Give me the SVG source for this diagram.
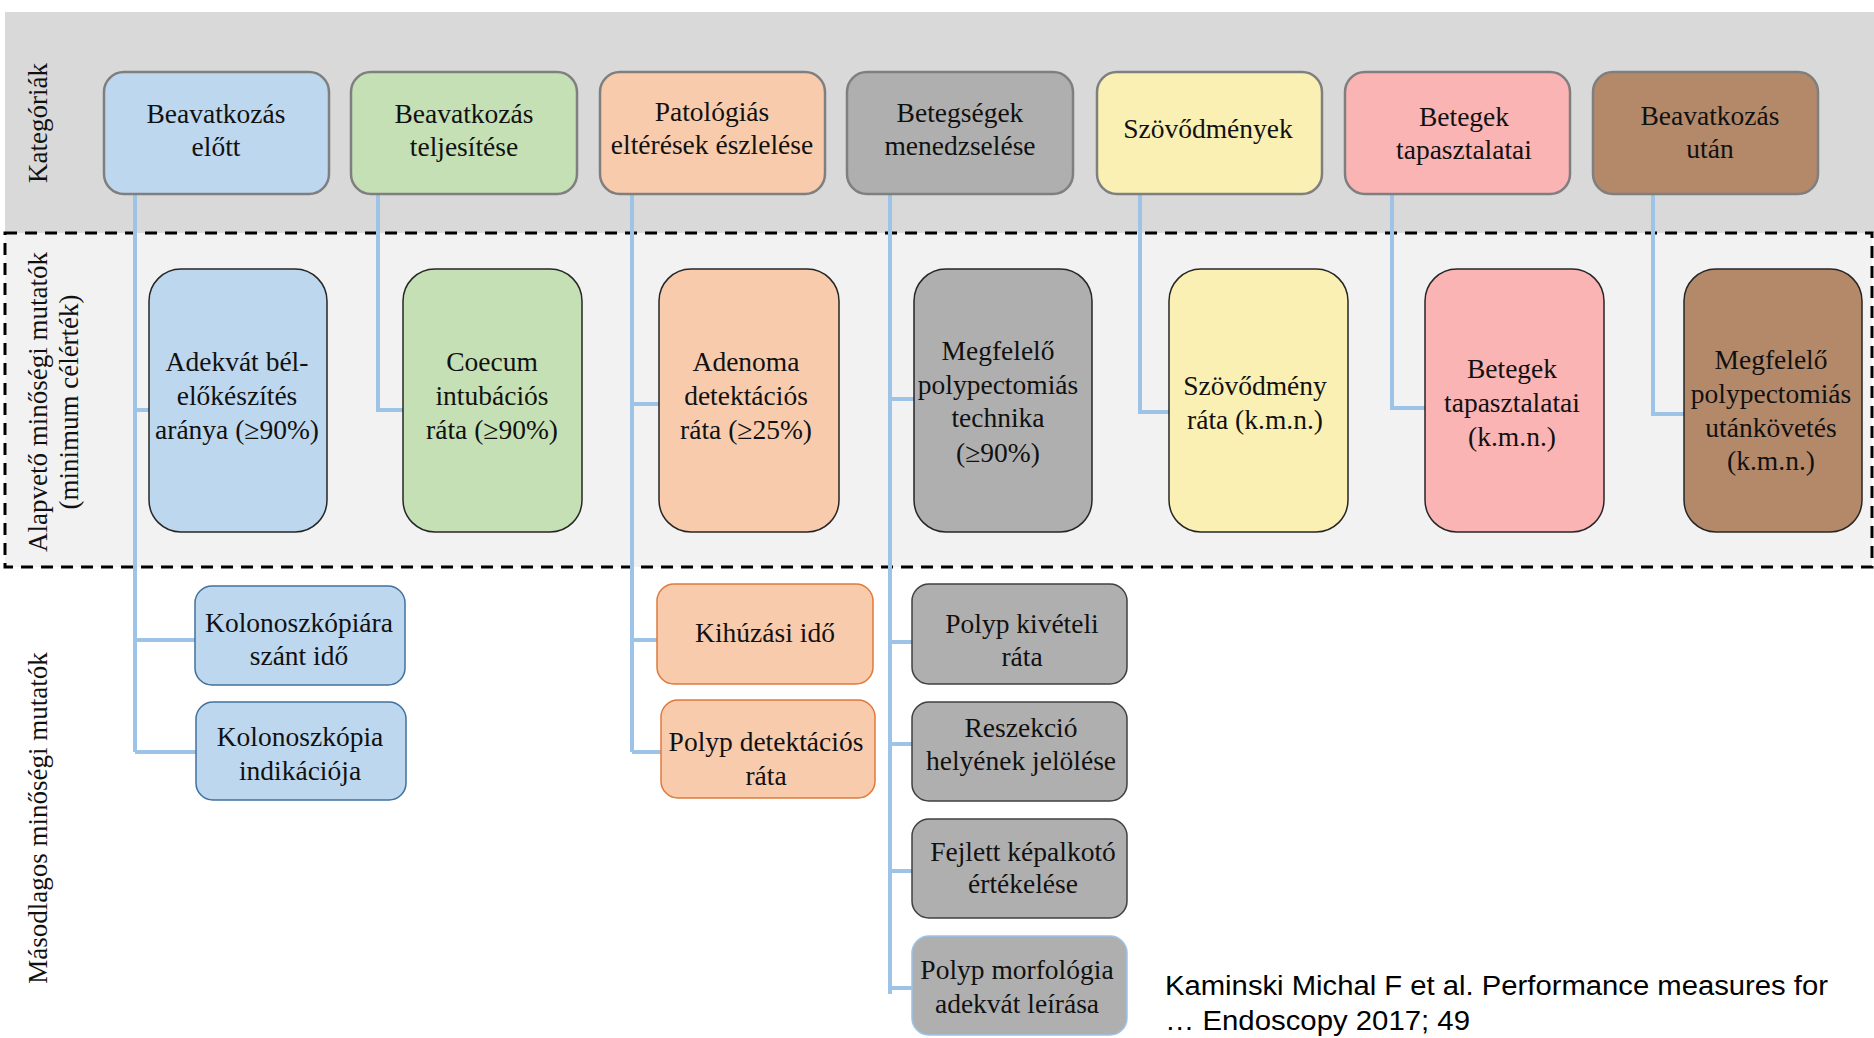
<svg xmlns="http://www.w3.org/2000/svg" width="1874" height="1038" viewBox="0 0 1874 1038">
<style>
.t{font-family:"Liberation Serif","Times New Roman",serif;font-size:27.5px;fill:#111;text-anchor:middle}
.lab{font-family:"Liberation Serif","Times New Roman",serif;font-size:27px;fill:#111;text-anchor:middle}
.cite{font-family:"Liberation Sans",Arial,sans-serif;font-size:27px;fill:#000}
.top{stroke:#7f7f7f;stroke-width:2.5}
.mid{stroke:#262626;stroke-width:1.5}
.bot{stroke-width:1.5}
.blue{fill:#bdd7ee}.green{fill:#c5e0b4}.peach{fill:#f8cbad}.grey{fill:#afafaf}.yellow{fill:#faf0b4}.pink{fill:#fbb4b4}.brown{fill:#b4896a}
.conn{fill:none;stroke:#9dc3e6;stroke-width:4}
</style>
<rect x="5" y="12" width="1869" height="221" fill="#d9d9d9"/>
<rect x="5" y="233" width="1867" height="334" fill="#f2f2f2" stroke="#000" stroke-width="3" stroke-dasharray="12 8"/>
<g id="labels">
<text class="lab" transform="translate(47,123) rotate(-90)">Kategóriák</text>
<text class="lab" transform="translate(47,402) rotate(-90)">Alapvető  minőségi  mutatók</text>
<text class="lab" transform="translate(78,402) rotate(-90)">(minimum  célérték)</text>
<text class="lab" transform="translate(47,818) rotate(-90)">Másodlagos minőségi mutatók</text>
</g>
<g id="connectors">
<path class="conn" d="M135,194V752M135,410H149M135,640H195M135,752H196"/>
<path class="conn" d="M378,194V410H403"/>
<path class="conn" d="M632,194V752M632,404H659M632,640H657M632,752H661"/>
<path class="conn" d="M890,194V994M890,399H914M890,642H912M890,744H912M890,871H912M890,988H912"/>
<path class="conn" d="M1140,194V412H1169"/>
<path class="conn" d="M1392,194V408H1425"/>
<path class="conn" d="M1653,194V414H1684"/>
</g>
<g id="cat1"><rect class="top blue" x="104" y="72" width="225" height="122" rx="20"/><text class="t" x="216" y="123">Beavatkozás</text><text class="t" x="216" y="156">előtt</text></g>
<g id="cat2"><rect class="top green" x="351" y="72" width="226" height="122" rx="20"/><text class="t" x="464" y="123">Beavatkozás</text><text class="t" x="464" y="156">teljesítése</text></g>
<g id="cat3"><rect class="top peach" x="600" y="72" width="225" height="122" rx="20"/><text class="t" x="712" y="121">Patológiás</text><text class="t" x="712" y="154">eltérések  észlelése</text></g>
<g id="cat4"><rect class="top grey" x="847" y="72" width="226" height="122" rx="20"/><text class="t" x="960" y="122">Betegségek</text><text class="t" x="960" y="155">menedzselése</text></g>
<g id="cat5"><rect class="top yellow" x="1097" y="72" width="225" height="122" rx="20"/><text class="t" x="1208" y="138">Szövődmények</text></g>
<g id="cat6"><rect class="top pink" x="1345" y="72" width="225" height="122" rx="20"/><text class="t" x="1464" y="126">Betegek</text><text class="t" x="1464" y="159">tapasztalatai</text></g>
<g id="cat7"><rect class="top brown" x="1593" y="72" width="225" height="122" rx="20"/><text class="t" x="1710" y="125">Beavatkozás</text><text class="t" x="1710" y="158">után</text></g>

<g id="core1"><rect class="mid blue" x="149" y="269" width="178" height="263" rx="32"/><text class="t" x="237" y="371">Adekvát bél-</text><text class="t" x="237" y="405">előkészítés</text><text class="t" x="237" y="439">aránya (≥90%)</text></g>
<g id="core2"><rect class="mid green" x="403" y="269" width="179" height="263" rx="32"/><text class="t" x="492" y="371">Coecum</text><text class="t" x="492" y="405">intubációs</text><text class="t" x="492" y="439">ráta (≥90%)</text></g>
<g id="core3"><rect class="mid peach" x="659" y="269" width="180" height="263" rx="32"/><text class="t" x="746" y="371">Adenoma</text><text class="t" x="746" y="405">detektációs</text><text class="t" x="746" y="439">ráta (≥25%)</text></g>
<g id="core4"><rect class="mid grey" x="914" y="269" width="178" height="263" rx="32"/><text class="t" x="998" y="360">Megfelelő</text><text class="t" x="998" y="394">polypectomiás</text><text class="t" x="998" y="427">technika</text><text class="t" x="998" y="462">(≥90%)</text></g>
<g id="core5"><rect class="mid yellow" x="1169" y="269" width="179" height="263" rx="32"/><text class="t" x="1255" y="395">Szövődmény</text><text class="t" x="1255" y="429">ráta (k.m.n.)</text></g>
<g id="core6"><rect class="mid pink" x="1425" y="269" width="179" height="263" rx="32"/><text class="t" x="1512" y="378">Betegek</text><text class="t" x="1512" y="412">tapasztalatai</text><text class="t" x="1512" y="446">(k.m.n.)</text></g>
<g id="core7"><rect class="mid brown" x="1684" y="269" width="178" height="263" rx="32"/><text class="t" x="1771" y="369">Megfelelő</text><text class="t" x="1771" y="403">polypectomiás</text><text class="t" x="1771" y="437">utánkövetés</text><text class="t" x="1771" y="470">(k.m.n.)</text></g>

<g id="sec1"><rect class="bot blue" stroke="#41719c" x="195" y="586" width="210" height="99" rx="17"/><text class="t" x="299" y="632">Kolonoszkópiára</text><text class="t" x="299" y="665">szánt idő</text></g>
<g id="sec2"><rect class="bot blue" stroke="#41719c" x="196" y="702" width="210" height="98" rx="17"/><text class="t" x="300" y="746">Kolonoszkópia</text><text class="t" x="300" y="780">indikációja</text></g>
<g id="sec3"><rect class="bot peach" stroke="#e07a3a" x="657" y="584" width="216" height="100" rx="17"/><text class="t" x="765" y="642">Kihúzási  idő</text></g>
<g id="sec4"><rect class="bot peach" stroke="#e07a3a" x="661" y="700" width="214" height="98" rx="17"/><text class="t" x="766" y="751">Polyp detektációs</text><text class="t" x="766" y="785">ráta</text></g>
<g id="sec5"><rect class="bot grey" stroke="#404040" x="912" y="584" width="215" height="100" rx="17"/><text class="t" x="1022" y="633">Polyp kivételi</text><text class="t" x="1022" y="666">ráta</text></g>
<g id="sec6"><rect class="bot grey" stroke="#404040" x="912" y="702" width="215" height="99" rx="17"/><text class="t" x="1021" y="737">Reszekció</text><text class="t" x="1021" y="770">helyének  jelölése</text></g>
<g id="sec7"><rect class="bot grey" stroke="#404040" x="912" y="819" width="215" height="99" rx="17"/><text class="t" x="1023" y="861">Fejlett  képalkotó</text><text class="t" x="1023" y="893">értékelése</text></g>
<g id="sec8"><rect class="bot grey" stroke="#9dc3e6" x="912" y="936" width="215" height="99" rx="17"/><text class="t" x="1017" y="979">Polyp morfológia</text><text class="t" x="1017" y="1013">adekvát leírása</text></g>

<g id="citation"><text class="cite" x="1165" y="995" textLength="663" lengthAdjust="spacingAndGlyphs">Kaminski Michal F et al. Performance measures for</text><text class="cite" x="1165" y="1030" textLength="305" lengthAdjust="spacingAndGlyphs">… Endoscopy 2017; 49</text></g>
</svg>
